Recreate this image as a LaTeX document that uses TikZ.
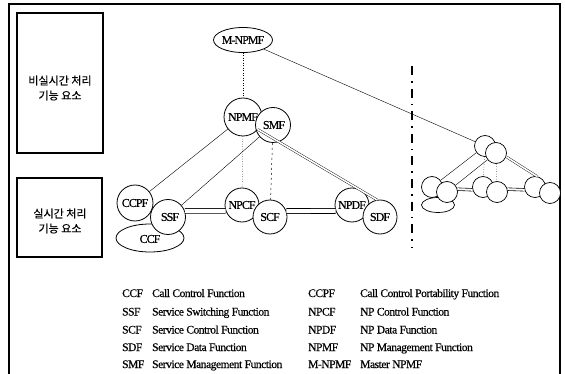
\documentclass[tikz,border=0pt]{standalone}
\usepackage{fontspec}
\setmainfont{Liberation Serif}
\newfontfamily\kr[FakeBold=0.6]{Noto Sans CJK KR}
\newfontfamily\tight[LetterSpace=-4, FakeBold=0.4]{Liberation Serif}
\newfontfamily\tighter[LetterSpace=-8, FakeBold=0.4]{Liberation Serif}
\usetikzlibrary{shapes.geometric}
\tikzset{
  frame/.style={line width=1.2pt},
  circ/.style={circle, draw, line width=0.8pt, fill=white, inner sep=0pt},
  oval/.style={ellipse, draw, line width=0.8pt, fill=white, inner sep=0pt},
  lbl/.style={inner sep=0pt, font=\tighter\fontsize{12}{12}\selectfont},
  thinln/.style={line width=0.4pt},
  dotln/.style={line width=0.5pt, dotted},
  dashln/.style={line width=0.5pt, dash pattern=on 2pt off 3pt},
  dbl/.style={double, double distance=4pt, line width=0.8pt},
  dblthin/.style={double, double distance=1.6pt, line width=0.4pt},
  sdbl/.style={double, double distance=2pt, line width=0.6pt},
  korean/.style={align=center, font=\kr\fontsize{11}{15}\selectfont},
  leg/.style={anchor=base west, inner sep=0pt, font=\tight\fontsize{11.5}{11.5}\selectfont},
  sep/.style={line width=1.6pt, dash pattern=on 9pt off 6pt on 1.6pt off 6pt}
}
\begin{document}
\begin{tikzpicture}[x=1pt,y=-1pt]
\useasboundingbox (0,0) rectangle (565,374);
% outer frame
\draw[frame] (9,374) -- (9,4) -- (560,4) -- (560,374);
% boxes
\node[draw, frame, minimum width=86pt, minimum height=140pt, inner sep=0pt] (boxtop) at (60,83) {};
\node[korean] (ktop) at (60,88) {비실시간 처리\\기능 요소};
\node[draw, frame, minimum width=85pt, minimum height=79pt, inner sep=0pt] (boxbot) at (59.5,217.5) {};
\node[korean] (kbot) at (60,221) {실시간 처리\\기능 요소};

% main nodes
\node[oval, minimum width=59pt, minimum height=25pt] (mnpmf) at (243,40) {};
\node[circ, minimum size=38pt] (npmf) at (243,117) {};
\node[circ, minimum size=35pt] (smf) at (273,125) {};
\node[oval, minimum width=68pt, minimum height=28pt] (ccf) at (150,238) {};
\node[circ, minimum size=36pt] (ccpf) at (135,203) {};
\node[circ, minimum size=35pt] (ssf) at (168,217) {};
\node[circ, minimum size=34pt] (npcf) at (242,205) {};
\node[circ, minimum size=34pt] (scf) at (270,217) {};
\node[circ, minimum size=34pt] (npdf) at (352,205) {};
\node[circ, minimum size=34pt] (sdf) at (380,217) {};

% labels
\node[lbl] at (mnpmf) {M-NPMF};
\node[lbl] at (npmf) {NPMF};
\node[lbl] at ([xshift=1pt]smf) {SMF};
\node[lbl] at (ccpf) {CCPF};
\node[lbl] at ([xshift=2pt]ssf) {SSF};
\node[lbl] at ([yshift=-1pt]ccf) {CCF};
\node[lbl] at (npcf) {NPCF};
\node[lbl] at (scf) {SCF};
\node[lbl] at (npdf) {NPDF};
\node[lbl] at (sdf) {SDF};

% connectors
\draw[dotln] (mnpmf) -- (npmf);
\draw[thinln] (npmf) -- (ccpf);
\draw[thinln] (smf) -- (ssf);
\draw[dotln] (npmf) -- (npcf);
\draw[dashln] (smf) -- (scf);
\draw[dblthin] (npmf.-40) -- (sdf.100);
\draw[dbl] (ssf.20) -- (npcf.200);
\draw[dbl] (scf.20) -- (npdf.200);

% separator
\coordinate (s1) at (412,66);
\coordinate (s2) at (412,247);
\draw[sep] (s1) -- (s2);

% small cluster
\node[circ, minimum size=21pt, line width=0.7pt] (t1) at (485,146) {};
\node[circ, minimum size=21pt, line width=0.7pt] (t2) at (496,153) {};
\node[oval, minimum width=33pt, minimum height=15pt, line width=0.7pt] (ae) at (438,205) {};
\node[circ, minimum size=21pt, line width=0.7pt] (a1) at (432,187) {};
\node[circ, minimum size=21pt, line width=0.7pt] (a2) at (447,192) {};
\node[circ, minimum size=21pt, line width=0.7pt] (b1) at (483,187) {};
\node[circ, minimum size=21pt, line width=0.7pt] (b2) at (497,192) {};
\node[circ, minimum size=21pt, line width=0.7pt] (c1) at (535,187) {};
\node[circ, minimum size=21pt, line width=0.7pt] (c2) at (550,193) {};
\draw[thinln] (mnpmf) -- (t1);
\draw[thinln] (t1) -- (a1);
\draw[thinln] (t2) -- (a2);
\draw[dotln] (t1) -- (b1);
\draw[dotln] (t2) -- (b2);
\draw[dblthin] (t2.-20) -- (c1.80);
\draw[sdbl] (a2.15) -- (b1.195);
\draw[sdbl] (b2.15) -- (c1.195);

% legend
\node[leg] (l1a) at (122,297) {CCF};
\node[leg] (l1b) at (152,297) {Call Control Function};
\node[leg] (l2a) at (122,315.5) {SSF};
\node[leg] (l2b) at (152,315.5) {Service Switching Function};
\node[leg] (l3a) at (122,333.5) {SCF};
\node[leg] (l3b) at (152,333.5) {Service Control Function};
\node[leg] (l4a) at (122,351) {SDF};
\node[leg] (l4b) at (152,351) {Service Data Function};
\node[leg] (l5a) at (122,368) {SMF};
\node[leg] (l5b) at (152,368) {Service Management Function};
\node[leg] (r1a) at (308,297) {CCPF};
\node[leg] (r1b) at (360,297) {Call Control Portability Function};
\node[leg] (r2a) at (308,315.5) {NPCF};
\node[leg] (r2b) at (360,315.5) {NP Control Function};
\node[leg] (r3a) at (308,333.5) {NPDF};
\node[leg] (r3b) at (360,333.5) {NP Data Function};
\node[leg] (r4a) at (308,351) {NPMF};
\node[leg] (r4b) at (360,351) {NP Management Function};
\node[leg] (r5a) at (308,368) {M-NPMF};
\node[leg] (r5b) at (360,368) {Master NPMF};
\end{tikzpicture}
\end{document}
